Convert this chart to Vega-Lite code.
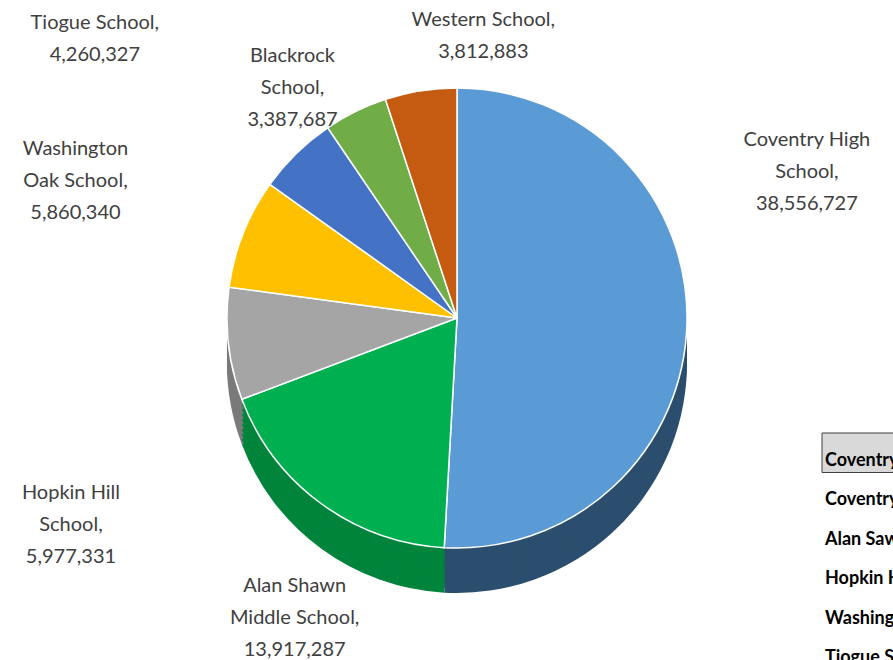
{
  "$schema": "https://vega.github.io/schema/vega-lite/v6.json",
  "padding": 0,
  "autosize": {"type": "pad"},
  "bounds": "flush",
  "background": "white",
  "spacing": 10,
  "config": {"view": {"stroke": null}, "font": "Lato"},
  "hconcat": [
    {
      "width": 812,
      "height": 660,
      "data": {
        "values": [
          {"school": "Coventry High School", "label": "Coventry High\nSchool,\n38,556,727", "value": 38556727, "order": 1},
          {"school": "Alan Shawn Middle School", "label": "Alan Shawn\nMiddle School,\n13,917,287", "value": 13917287, "order": 2},
          {"school": "Hopkin Hill School", "label": "Hopkin Hill\nSchool,\n5,977,331", "value": 5977331, "order": 3},
          {"school": "Washington Oak School", "label": "Washington\nOak School,\n5,860,340", "value": 5860340, "order": 4},
          {"school": "Tiogue School", "label": "Tiogue School,\n4,260,327", "value": 4260327, "order": 5},
          {"school": "Blackrock School", "label": "Blackrock\nSchool,\n3,387,687", "value": 3387687, "order": 6},
          {"school": "Western School", "label": "Western School,\n3,812,883", "value": 3812883, "order": 7}
        ]
      },
      "encoding": {
        "theta": {"field": "value", "type": "quantitative", "stack": true},
        "order": {"field": "order", "type": "quantitative"}
      },
      "resolve": {"scale": {"color": "independent"}},
      "layer": [
        {
          "layer": [
            {"mark": {"type": "arc", "outerRadius": 230, "x": 457, "y": 318, "yOffset": 45}},
            {"mark": {"type": "arc", "outerRadius": 230, "x": 457, "y": 318, "yOffset": 40}},
            {"mark": {"type": "arc", "outerRadius": 230, "x": 457, "y": 318, "yOffset": 35}},
            {"mark": {"type": "arc", "outerRadius": 230, "x": 457, "y": 318, "yOffset": 30}},
            {"mark": {"type": "arc", "outerRadius": 230, "x": 457, "y": 318, "yOffset": 25}},
            {"mark": {"type": "arc", "outerRadius": 230, "x": 457, "y": 318, "yOffset": 20}},
            {"mark": {"type": "arc", "outerRadius": 230, "x": 457, "y": 318, "yOffset": 15}},
            {"mark": {"type": "arc", "outerRadius": 230, "x": 457, "y": 318, "yOffset": 10}},
            {"mark": {"type": "arc", "outerRadius": 230, "x": 457, "y": 318, "yOffset": 5}}
          ],
          "encoding": {
            "color": {"field": "school", "type": "nominal", "legend": null,
              "scale": {"domain": ["Coventry High School", "Alan Shawn Middle School", "Hopkin Hill School", "Washington Oak School", "Tiogue School", "Blackrock School", "Western School"],
                        "range": ["#2C4E6E", "#00843B", "#7A7A7A", "#C79600", "#2F5597", "#507E32", "#8F400C"]}}
          }
        },
        {
          "mark": {"type": "arc", "outerRadius": 230, "x": 457, "y": 318, "stroke": "#ffffff", "strokeWidth": 1.5},
          "encoding": {
            "color": {"field": "school", "type": "nominal", "legend": null,
              "scale": {"domain": ["Coventry High School", "Alan Shawn Middle School", "Hopkin Hill School", "Washington Oak School", "Tiogue School", "Blackrock School", "Western School"],
                        "range": ["#5B9BD5", "#00B050", "#A5A5A5", "#FFC000", "#4472C4", "#70AD47", "#C55A11"]}}
          }
        },
        {
          "mark": {"type": "text", "x": 457, "y": 318, "radius": 397, "thetaOffset": -0.52, "dy": 10, "lineBreak": "\n", "fontSize": 20, "lineHeight": 32, "color": "#404040"},
          "encoding": {"text": {"condition": {"test": "datum.order == 1", "field": "label"}, "value": ""}}
        },
        {
          "mark": {"type": "text", "clip": true, "x": 457, "y": 318, "radius": 305, "dx": 18, "dy": 22, "lineBreak": "\n", "fontSize": 20, "lineHeight": 32, "color": "#404040"},
          "encoding": {"text": {"condition": {"test": "datum.order == 2", "field": "label"}, "value": ""}}
        },
        {
          "mark": {"type": "text", "clip": true, "x": 457, "y": 318, "radius": 305, "dx": -83, "dy": 141, "lineBreak": "\n", "fontSize": 20, "lineHeight": 32, "color": "#404040"},
          "encoding": {"text": {"condition": {"test": "datum.order == 3", "field": "label"}, "value": ""}}
        },
        {
          "mark": {"type": "text", "clip": true, "x": 457, "y": 318, "radius": 305, "dx": -98, "dy": -57, "lineBreak": "\n", "fontSize": 20, "lineHeight": 32, "color": "#404040"},
          "encoding": {"text": {"condition": {"test": "datum.order == 4", "field": "label"}, "value": ""}}
        },
        {
          "mark": {"type": "text", "clip": true, "x": 457, "y": 318, "radius": 305, "dx": -149, "dy": -77, "lineBreak": "\n", "fontSize": 20, "lineHeight": 32, "color": "#404040"},
          "encoding": {"text": {"condition": {"test": "datum.order == 5", "field": "label"}, "value": ""}}
        },
        {
          "mark": {"type": "text", "clip": true, "x": 457, "y": 318, "radius": 305, "dx": -30, "dy": 12, "lineBreak": "\n", "fontSize": 20, "lineHeight": 32, "color": "#404040"},
          "encoding": {"text": {"condition": {"test": "datum.order == 6", "field": "label"}, "value": ""}}
        },
        {
          "mark": {"type": "text", "clip": true, "x": 457, "y": 318, "radius": 290, "dx": 72, "dy": -12, "lineBreak": "\n", "fontSize": 20, "lineHeight": 32, "color": "#404040"},
          "encoding": {"text": {"condition": {"test": "datum.order == 7", "field": "label"}, "value": ""}}
        }
      ]
    },
    {
      "width": 200,
      "height": 660,
      "data": {
        "values": [
          {"row": "h", "name": "Coventry Public Schools", "header": true},
          {"row": "1", "name": "Coventry High School", "header": false},
          {"row": "2", "name": "Alan Sawn Middle School", "header": false},
          {"row": "3", "name": "Hopkin Hill School", "header": false},
          {"row": "4", "name": "Washington Oak School", "header": false},
          {"row": "5", "name": "Tiogue School", "header": false}
        ]
      },
      "encoding": {
        "y": {"field": "row", "type": "ordinal", "axis": null,
          "scale": {"domain": ["h", "1", "2", "3", "4", "5"], "range": [433, 670], "paddingInner": 0, "paddingOuter": 0}}
      },
      "layer": [
        {
          "transform": [{"filter": "datum.header"}],
          "mark": {"type": "rect", "fill": "#D9D9D9", "stroke": "#404040", "strokeWidth": 1}
        },
        {
          "mark": {"type": "text", "align": "left", "x": 3, "dy": 8, "fontWeight": "bold", "fontSize": 18, "color": "#000000"},
          "encoding": {"text": {"field": "name"}}
        }
      ]
    }
  ]
}
